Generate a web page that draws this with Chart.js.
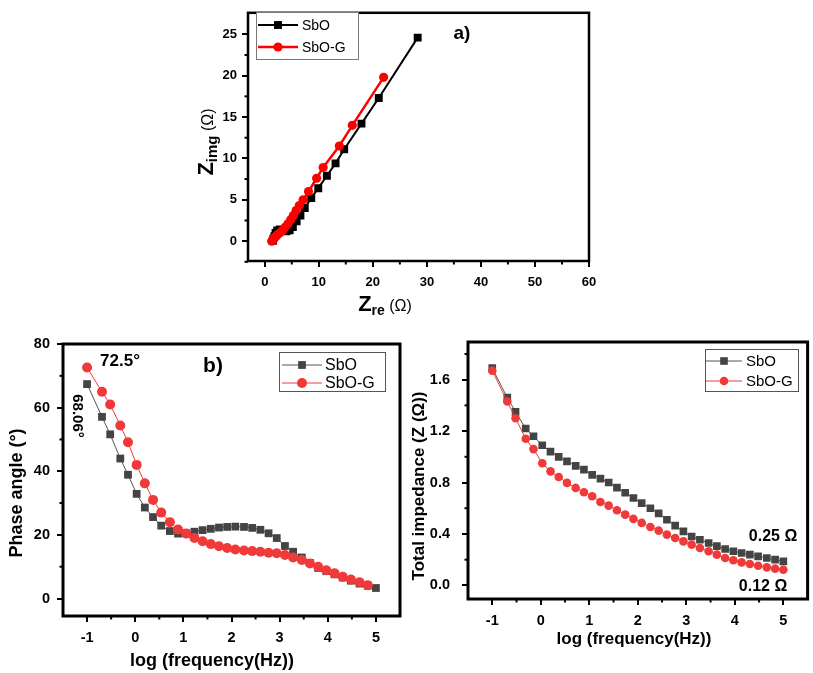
<!DOCTYPE html>
<html>
<head>
<meta charset="utf-8">
<script src="https://cdn.jsdelivr.net/npm/chart.js@4.4.1/dist/chart.umd.min.js"></script>
<style>
  body { margin: 0; background: #fff; }
  #page { position: relative; width: 813px; height: 673px; overflow: hidden; background: #fff; }
  canvas { position: absolute; }
</style>
</head>
<body>
<div id="page">
  <canvas id="nyquist" width="450" height="320" style="left:160px;top:0px"></canvas>
  <canvas id="phase" width="410" height="353" style="left:0px;top:320px"></canvas>
  <canvas id="impedance" width="403" height="353" style="left:410px;top:320px"></canvas>
</div>
<script>
// a) Nyquist plot
const nyqSbORe  = [1.5, 1.6, 1.8, 2.0, 2.3, 2.8, 3.4, 4.0, 4.6, 5.2, 5.9, 6.6, 7.4, 8.6, 9.9, 11.5, 13.1, 14.7, 17.9, 21.1, 28.3];
const nyqSbOIm  = [0.05, 0.3, 0.6, 1.0, 1.3, 1.4, 1.3, 1.2, 1.3, 1.7, 2.4, 3.1, 4.0, 5.2, 6.4, 7.9, 9.4, 11.1, 14.2, 17.3, 24.6];
const nyqSbOGRe = [1.3, 1.4, 1.6, 1.8, 2.1, 2.4, 2.8, 3.3, 3.8, 4.3, 4.8, 5.3, 5.8, 6.4, 7.1, 8.1, 9.6, 10.8, 13.8, 16.2, 22.0];
const nyqSbOGIm = [0.0, 0.1, 0.25, 0.4, 0.6, 0.8, 1.0, 1.3, 1.7, 2.1, 2.6, 3.1, 3.7, 4.3, 5.0, 6.0, 7.6, 8.9, 11.5, 14.0, 19.8];
const nyqXTicks = [0, 10, 20, 30, 40, 50, 60];
const nyqXMinor = [5, 15, 25, 35, 45, 55];
const nyqYTicks = [0, 5, 10, 15, 20, 25];
const nyqYMinor = [-2.5, 2.5, 7.5, 12.5, 17.5, 22.5];

// b) and c) share the frequency grid, log(f / Hz)
const logFreq = [-1.00, -0.69, -0.52, -0.31, -0.15, 0.03, 0.20, 0.37, 0.54, 0.72, 0.89, 1.06, 1.23, 1.40, 1.57,
  1.74, 1.91, 2.08, 2.26, 2.43, 2.60, 2.77, 2.94, 3.11, 3.28, 3.46, 3.63, 3.80, 3.97, 4.14, 4.31, 4.48, 4.66, 4.83, 5.00];

// b) phase angle (deg)
const phaseSbO  = [67.4, 57.1, 51.6, 44.0, 38.9, 32.9, 28.6, 25.6, 22.9, 21.2, 20.4, 20.5, 21.0, 21.5, 21.9,
  22.3, 22.5, 22.6, 22.5, 22.2, 21.6, 20.5, 19.0, 16.5, 14.7, 12.9, 11.2, 9.6, 8.6, 7.6, 6.6, 5.6, 4.7, 4.0, 3.3];
const phaseSbOG = [72.6, 65.0, 61.0, 54.4, 49.1, 42.0, 36.2, 31.0, 27.0, 24.0, 21.7, 20.4, 19.0, 18.0, 17.1,
  16.4, 15.9, 15.4, 15.1, 14.9, 14.7, 14.4, 14.2, 13.7, 12.9, 12.1, 11.0, 10.0, 8.9, 7.9, 6.8, 6.0, 5.1, 4.2];
const freqTicks = [-1, 0, 1, 2, 3, 4, 5];
const freqMinor = [-0.5, 0.5, 1.5, 2.5, 3.5, 4.5];
const phaseTicks = [0, 20, 40, 60, 80];
const phaseMinor = [10, 30, 50, 70];

// c) total impedance (ohm)
const impSbO  = [1.69, 1.46, 1.35, 1.22, 1.16, 1.09, 1.04, 1.00, 0.965, 0.93, 0.90, 0.86, 0.83, 0.80, 0.76,
  0.72, 0.68, 0.64, 0.60, 0.56, 0.51, 0.465, 0.42, 0.38, 0.355, 0.33, 0.305, 0.283, 0.265, 0.252, 0.239, 0.226, 0.213, 0.20, 0.187];
const impSbOG = [1.67, 1.43, 1.30, 1.14, 1.06, 0.95, 0.887, 0.843, 0.797, 0.758, 0.724, 0.693, 0.649, 0.620, 0.584,
  0.550, 0.517, 0.486, 0.454, 0.426, 0.395, 0.369, 0.342, 0.317, 0.291, 0.265, 0.239, 0.213, 0.195, 0.179, 0.166, 0.153, 0.140, 0.130, 0.122];
const impTicks = [0, 0.4, 0.8, 1.2, 1.6];
const impMinor = [0.2, 0.6, 1.0, 1.4, 1.8];

Chart.defaults.font.family = "'Liberation Sans', Arial, sans-serif";
Chart.defaults.color = "#000";
Chart.defaults.animation = false;

const FONT = "'Liberation Sans', Arial, sans-serif";
const GREY = "#444444";
const RED = "#f03a3a";

const pts = (xs, ys) => ys.map((y, i) => ({ x: xs[i], y: y }));

const makeScale = (o) => ({
  type: "linear",
  min: o.min,
  max: o.max,
  afterBuildTicks: (s) => { s.ticks = o.ticks.map((v) => ({ value: v })); },
  afterFit: (s) => { if (o.axis === "x") s.height = o.size; else s.width = o.size; },
  grid: { drawOnChartArea: false, drawTicks: true, tickLength: 6, color: "#000", lineWidth: o.lw },
  border: { display: true, color: "#000", width: o.lw },
  ticks: {
    autoSkip: false, maxRotation: 0, padding: o.pad, color: "#000",
    font: { size: o.font, weight: "bold" },
    callback: (v) => (o.fixed !== undefined ? Number(v).toFixed(o.fixed) : String(v)),
  },
});

const seg = (ctx, x0, y0, x1, y1) => { ctx.beginPath(); ctx.moveTo(x0, y0); ctx.lineTo(x1, y1); ctx.stroke(); };

const marker = (ctx, style, r, color, x, y) => {
  ctx.fillStyle = color;
  ctx.beginPath();
  if (style === "rect") { const s = r * Math.SQRT1_2; ctx.rect(x - s, y - s, 2 * s, 2 * s); }
  else ctx.arc(x, y, r, 0, Math.PI * 2);
  ctx.fill();
};

// one text made of several runs (for subscripts)
const drawRuns = (ctx, runs, cx, cy, rot) => {
  ctx.save();
  ctx.translate(cx, cy);
  ctx.rotate(rot || 0);
  let total = 0;
  runs.forEach((r) => { ctx.font = r.font; r.w = ctx.measureText(r.t).width; total += r.w; });
  let x = -total / 2;
  ctx.textAlign = "left";
  ctx.textBaseline = "alphabetic";
  ctx.fillStyle = "#000";
  runs.forEach((r) => { ctx.font = r.font; ctx.fillText(r.t, x, r.dy || 0); x += r.w; });
  ctx.restore();
};

const makeDecor = (cfg) => ({
  id: "decor",
  afterDraw(chart) {
    const { ctx, chartArea: a, scales } = chart;
    ctx.save();
    ctx.strokeStyle = "#000";
    ctx.lineWidth = cfg.tickWidth;
    cfg.minorX.forEach((v) => { const p = scales.x.getPixelForValue(v); seg(ctx, p, a.bottom, p, a.bottom + 3.5); });
    cfg.minorY.forEach((v) => { const p = scales.y.getPixelForValue(v); seg(ctx, a.left, p, a.left - 3.5, p); });
    ctx.lineWidth = cfg.frame;
    ctx.strokeRect(a.left, a.top, a.right - a.left, a.bottom - a.top);

    // legend
    const lg = cfg.legend;
    ctx.fillStyle = "#fff";
    ctx.fillRect(lg.x0, lg.y0, lg.x1 - lg.x0, lg.y1 - lg.y0);
    ctx.lineWidth = 1;
    ctx.strokeStyle = lg.border;
    ctx.strokeRect(lg.x0 + 0.5, lg.y0 + 0.5, lg.x1 - lg.x0, lg.y1 - lg.y0);
    chart.data.datasets.forEach((ds, i) => {
      const y = lg.rows[i];
      ctx.strokeStyle = ds.borderColor;
      ctx.lineWidth = ds.borderWidth;
      seg(ctx, lg.lineX0, y, lg.lineX1, y);
      marker(ctx, ds.pointStyle, ds.pointRadius, ds.pointBackgroundColor, (lg.lineX0 + lg.lineX1) / 2, y);
      ctx.fillStyle = "#000";
      ctx.font = lg.font;
      ctx.textAlign = "left";
      ctx.textBaseline = "middle";
      ctx.fillText(ds.label, lg.textX, y + 1);
    });

    cfg.texts.forEach((t) => drawRuns(ctx, t.runs, t.x, t.y, t.rot));
    ctx.restore();
  },
});

const baseOptions = (xScale, yScale, pad) => ({
  responsive: false,
  animation: false,
  layout: { padding: pad },
  plugins: { legend: { display: false }, tooltip: { enabled: false } },
  scales: { x: xScale, y: yScale },
});

// ---------- a) Nyquist ----------
new Chart(document.getElementById("nyquist"), {
  type: "scatter",
  data: {
    datasets: [
      { label: "SbO", data: pts(nyqSbORe, nyqSbOIm), showLine: true, borderColor: "#000", borderWidth: 2,
        pointStyle: "rect", pointRadius: 5.6, pointBackgroundColor: "#000", pointBorderColor: "#000", pointBorderWidth: 0, order: 1 },
      { label: "SbO-G", data: pts(nyqSbOGRe, nyqSbOGIm), showLine: true, borderColor: "#ff0000", borderWidth: 2.5,
        pointStyle: "circle", pointRadius: 4.6, pointBackgroundColor: "#ff0000", pointBorderColor: "#ff0000", pointBorderWidth: 0, order: 0 },
    ],
  },
  options: baseOptions(
    makeScale({ axis: "x", min: -3.1, max: 60, ticks: nyqXTicks, size: 59, pad: 8, font: 13, lw: 2 }),
    makeScale({ axis: "y", min: -2.4, max: 27.6, ticks: nyqYTicks, size: 88, pad: 5, font: 13, lw: 2 }),
    { top: 6, right: 21, left: 0, bottom: 0 }
  ),
  plugins: [makeDecor({
    frame: 2.5, tickWidth: 2, minorX: nyqXMinor, minorY: nyqYMinor,
    legend: { x0: 96, y0: 12, x1: 198, y1: 59, border: "#777", rows: [25, 47], lineX0: 98, lineX1: 138, textX: 142, font: "14px " + FONT },
    texts: [
      { runs: [{ t: "a)", font: "bold 19px " + FONT }], x: 302, y: 39 },
      { runs: [{ t: "Z", font: "bold 22px " + FONT }, { t: "img", font: "bold 15px " + FONT, dy: 4 }, { t: " (\u03a9)", font: "16px " + FONT }], x: 53, y: 142, rot: -Math.PI / 2 },
      { runs: [{ t: "Z", font: "bold 22px " + FONT }, { t: "re", font: "bold 14px " + FONT, dy: 4 }, { t: " (\u03a9)", font: "16px " + FONT }], x: 225, y: 311 },
    ],
  })],
});

// ---------- b) phase angle ----------
new Chart(document.getElementById("phase"), {
  type: "scatter",
  data: {
    datasets: [
      { label: "SbO", data: pts(logFreq, phaseSbO), showLine: true, borderColor: "#555", borderWidth: 1,
        pointStyle: "rect", pointRadius: 5.5, pointBackgroundColor: GREY, pointBorderColor: GREY, pointBorderWidth: 0, order: 1 },
      { label: "SbO-G", data: pts(logFreq, phaseSbOG), showLine: true, borderColor: RED, borderWidth: 1,
        pointStyle: "circle", pointRadius: 5, pointBackgroundColor: RED, pointBorderColor: RED, pointBorderWidth: 0, order: 0 },
    ],
  },
  options: baseOptions(
    makeScale({ axis: "x", min: -1.5, max: 5.5, ticks: freqTicks, size: 57, pad: 7, font: 14.5, lw: 2 }),
    makeScale({ axis: "y", min: -5.5, max: 80, ticks: phaseTicks, size: 63, pad: 7, font: 14.5, lw: 2 }),
    { top: 24, right: 10, left: 0, bottom: 0 }
  ),
  plugins: [makeDecor({
    frame: 3, tickWidth: 2, minorX: freqMinor, minorY: phaseMinor,
    legend: { x0: 279, y0: 32, x1: 385, y1: 71, border: "#555", rows: [45, 63], lineX0: 282, lineX1: 322, textX: 325, font: "16px " + FONT },
    texts: [
      { runs: [{ t: "b)", font: "bold 21px " + FONT }], x: 213, y: 52 },
      { runs: [{ t: "72.5\u00b0", font: "bold 17px " + FONT }], x: 120, y: 46 },
      { runs: [{ t: "68.06\u00b0", font: "bold 15px " + FONT }], x: 73, y: 96, rot: Math.PI / 2 },
      { runs: [{ t: "Phase angle (\u00b0)", font: "bold 18px " + FONT }], x: 22, y: 173, rot: -Math.PI / 2 },
      { runs: [{ t: "log (frequency(Hz))", font: "bold 18px " + FONT }], x: 212, y: 346 },
    ],
  })],
});

// ---------- c) total impedance ----------
new Chart(document.getElementById("impedance"), {
  type: "scatter",
  data: {
    datasets: [
      { label: "SbO", data: pts(logFreq, impSbO), showLine: true, borderColor: "#555", borderWidth: 1,
        pointStyle: "rect", pointRadius: 5.4, pointBackgroundColor: GREY, pointBorderColor: GREY, pointBorderWidth: 0, order: 1 },
      { label: "SbO-G", data: pts(logFreq, impSbOG), showLine: true, borderColor: RED, borderWidth: 1,
        pointStyle: "circle", pointRadius: 4.3, pointBackgroundColor: RED, pointBorderColor: RED, pointBorderWidth: 0, order: 0 },
    ],
  },
  options: baseOptions(
    makeScale({ axis: "x", min: -1.5, max: 5.5, ticks: freqTicks, size: 74, pad: 7, font: 14.5, lw: 2 }),
    makeScale({ axis: "y", min: -0.106, max: 1.893, ticks: impTicks, size: 58, pad: 12, font: 14.5, lw: 2, fixed: 1 }),
    { top: 22, right: 4, left: 0, bottom: 0 }
  ),
  plugins: [makeDecor({
    frame: 3, tickWidth: 2, minorX: freqMinor, minorY: impMinor,
    legend: { x0: 295, y0: 29, x1: 388, y1: 71, border: "#555", rows: [41, 61], lineX0: 296, lineX1: 332, textX: 336, font: "15px " + FONT },
    texts: [
      { runs: [{ t: "0.25 \u03a9", font: "bold 16px " + FONT }], x: 363, y: 221 },
      { runs: [{ t: "0.12 \u03a9", font: "bold 16px " + FONT }], x: 353, y: 271 },
      { runs: [{ t: "Total impedance (Z (\u03a9))", font: "bold 17px " + FONT }], x: 14, y: 166, rot: -Math.PI / 2 },
      { runs: [{ t: "log (frequency(Hz))", font: "bold 17px " + FONT }], x: 224, y: 324 },
    ],
  })],
});
</script>
</body>
</html>
